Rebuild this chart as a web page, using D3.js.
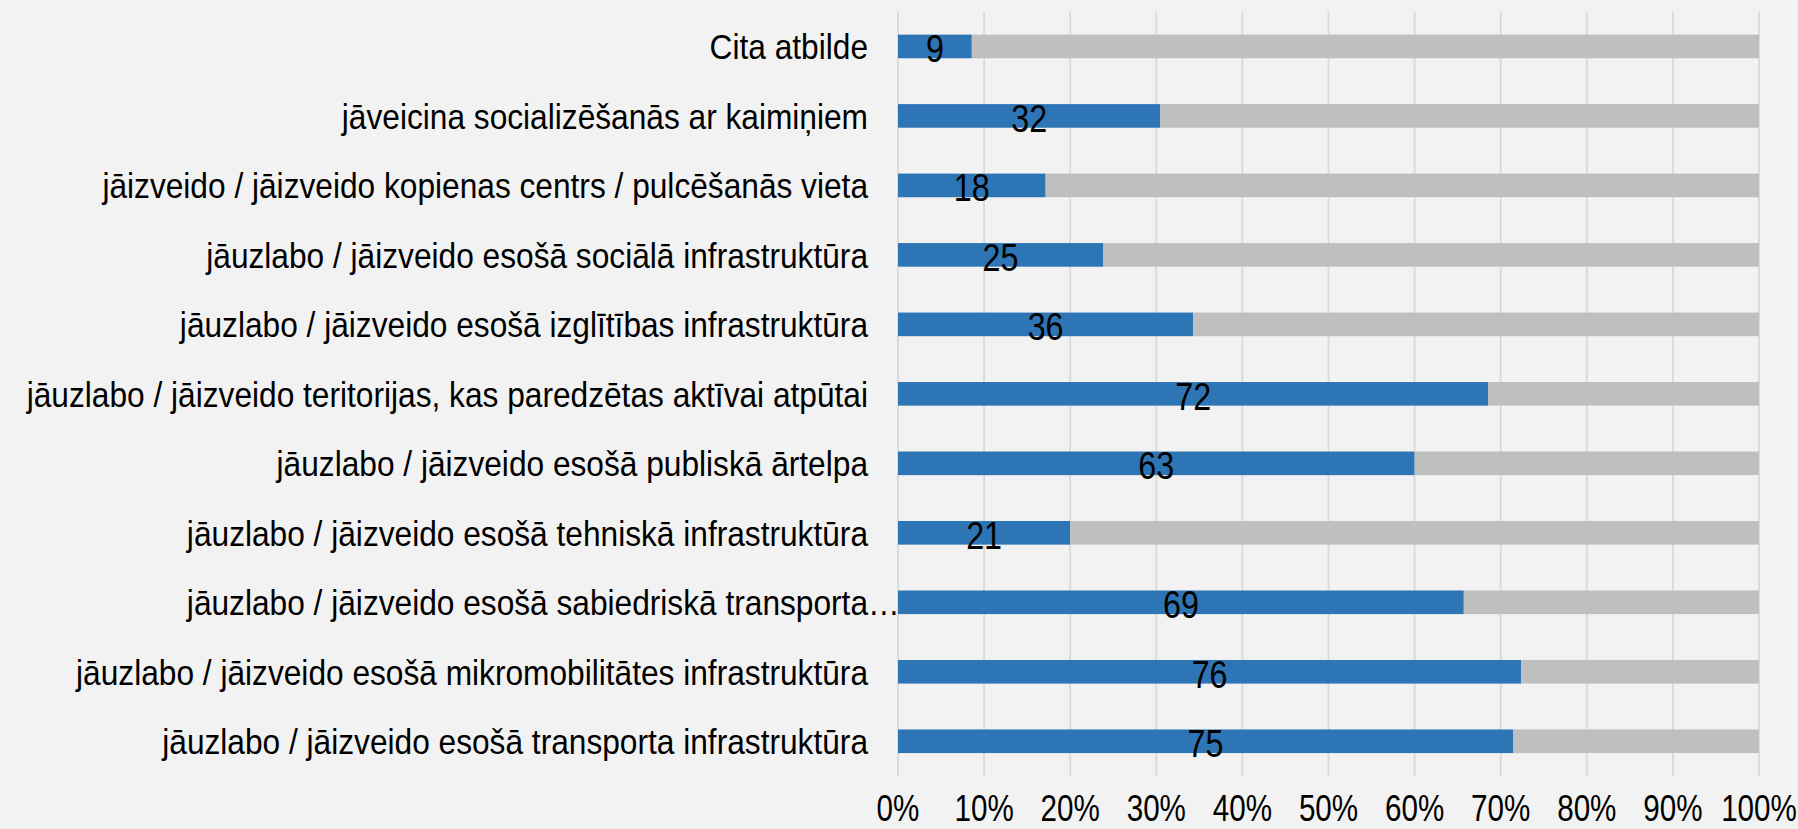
<html>
<head>
<meta charset="utf-8">
<style>
    body { margin: 0; background: #f2f2f2; }
    svg { display: block; }
    text { font-family: "Liberation Sans", Arial, sans-serif; fill: #000; }
</style>
<script src="https://d3js.org/d3.v7.min.js"></script>
</head>
<body>
<svg id="chart"></svg>
<script>
    // categories, top to bottom
    let categories = [
        "Cita atbilde",
        "jāveicina socializēšanās ar kaimiņiem",
        "jāizveido / jāizveido kopienas centrs / pulcēšanās vieta",
        "jāuzlabo / jāizveido esošā sociālā infrastruktūra",
        "jāuzlabo / jāizveido esošā izglītības infrastruktūra ",
        "jāuzlabo / jāizveido teritorijas, kas paredzētas aktīvai atpūtai",
        "jāuzlabo / jāizveido esošā publiskā ārtelpa",
        "jāuzlabo / jāizveido esošā tehniskā infrastruktūra",
        "jāuzlabo / jāizveido esošā sabiedriskā transporta…",
        "jāuzlabo / jāizveido esošā mikromobilitātes infrastruktūra",
        "jāuzlabo / jāizveido esošā transporta infrastruktūra"
    ]
    // answered (blue) and the rest (grey)
    let selected = [9, 32, 18, 25, 36, 72, 63, 21, 69, 76, 75]
    let notSelected = [96, 73, 87, 80, 69, 33, 42, 84, 36, 29, 30]
    let tickValues = [0, 0.1, 0.2, 0.3, 0.4, 0.5, 0.6, 0.7, 0.8, 0.9, 1]

    let width = 1798, height = 829
    let margin = { top: 11.7, bottom: 53, left: 898, right: 39 }

    let svg = d3.select('#chart')
        .attr('width', width)
        .attr('height', height)
        .style('background', '#f2f2f2')

    let rows = categories.map((c, i) => ({ cat: c, selected: selected[i], notSelected: notSelected[i] }))
    let series = d3.stack()
        .keys(['selected', 'notSelected'])
        .offset(d3.stackOffsetExpand)(rows)

    let xScale = d3.scaleLinear()
        .domain([0, 1])
        .range([margin.left, width - margin.right])

    let yScale = d3.scaleBand()
        .domain(categories)
        .range([margin.top, height - margin.bottom])
        .paddingInner(0.66)
        .paddingOuter(0.33)

    // gridlines
    svg.append('g').selectAll('line')
        .data(tickValues)
        .enter().append('line')
        .attr('x1', d => xScale(d)).attr('x2', d => xScale(d))
        .attr('y1', margin.top).attr('y2', height - margin.bottom)
        .attr('stroke', '#d9d9d9')
        .attr('stroke-width', 1.8)

    let colors = { selected: '#2e75b6', notSelected: '#bfbfbf' }

    // bars
    svg.append('g').selectAll('g')
        .data(series)
        .enter().append('g')
        .attr('fill', d => colors[d.key])
        .selectAll('rect')
        .data(d => d)
        .enter().append('rect')
        .attr('x', d => xScale(d[0]))
        .attr('width', d => xScale(d[1]) - xScale(d[0]))
        .attr('y', d => yScale(d.data.cat))
        .attr('height', yScale.bandwidth())

    // value labels in the middle of the blue part (they sit a little low, like the original)
    svg.append('g').selectAll('g')
        .data(series[0])
        .enter().append('g')
        .attr('transform', d => `translate(${(xScale(d[0]) + xScale(d[1])) / 2},${yScale(d.data.cat) + yScale.bandwidth() + 4}) scale(0.85,1)`)
        .append('text')
        .attr('text-anchor', 'middle')
        .style('font-size', '38px')
        .text(d => d.data.selected)

    // category labels
    let catLabels = svg.append('g').selectAll('g')
        .data(categories)
        .enter().append('g')
        .attr('transform', d => `translate(868,${yScale(d) + yScale.bandwidth() / 2}) scale(0.88,1)`)
        .append('text')
        .attr('text-anchor', 'end')
        .attr('dy', '0.36em')
        .style('font-size', '36px')
    catLabels.each(function(d) {
        let t = d3.select(this)
        if (d.endsWith('…')) {
            // truncated label: ellipsis hangs past the right edge
            t.attr('text-anchor', 'start')
            t.append('tspan').text(d.slice(0, -1))
            let w = this.getComputedTextLength()
            t.attr('x', -w)
            t.append('tspan').text('…')
        } else {
            t.text(d)
        }
    })

    // x axis tick labels
    svg.append('g').selectAll('g')
        .data(tickValues)
        .enter().append('g')
        .attr('transform', d => `translate(${xScale(d)},${height - 8}) scale(0.8,1)`)
        .append('text')
        .attr('text-anchor', 'middle')
        .style('font-size', '37px')
        .text(d3.format('.0%'))
</script>
</body>
</html>
